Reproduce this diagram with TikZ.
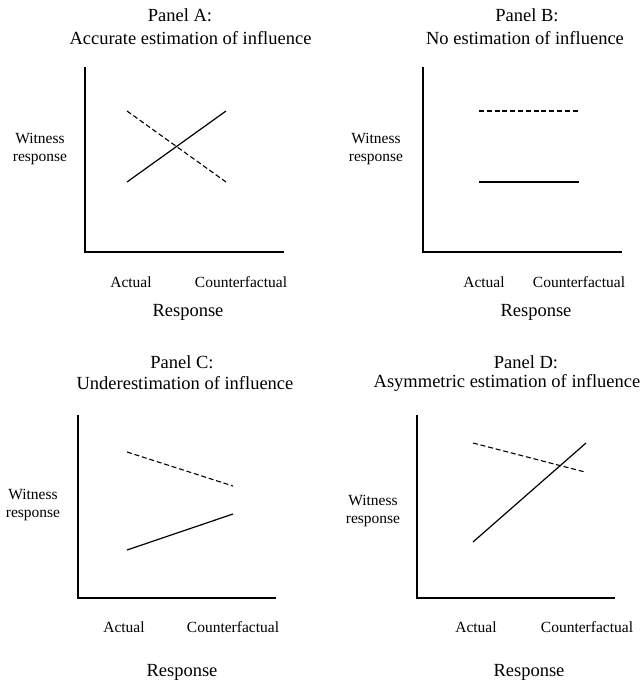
\documentclass[tikz,border=0pt]{standalone}
\usepackage{fontspec}
\setmainfont{Liberation Serif}
\begin{document}
\begin{tikzpicture}[x=1pt,y=-1pt,
  ttl/.style={inner sep=0pt,font=\fontsize{18.5}{22}\selectfont},
  lbl/.style={inner sep=0pt,font=\fontsize{15.5}{18}\selectfont,align=center},
  axis/.style={line width=1.3pt,line cap=rect},
  sol/.style={line width=1.2pt},
  dsh/.style={line width=1.1pt,dash pattern=on 5pt off 2.8pt}]
\useasboundingbox (0,0) rectangle (644,683);
% ---------- Panel A ----------
\node[ttl] (a1) at (180,15) {Panel A:};
\node[ttl] (a2) at (190.5,38) {Accurate estimation of influence};
\coordinate (ao) at (85,252); \coordinate (ay) at (85,68); \coordinate (ax) at (283,252);
\draw[axis] (ay) -- (ao) -- (ax);
\coordinate (as1) at (127,182); \coordinate (as2) at (226,111);
\coordinate (ad1) at (127,111); \coordinate (ad2) at (226,182);
\draw[sol] (as1) -- (as2);
\draw[dsh] (ad1) -- (ad2);
\node[lbl] (aw) at (40,149) {Witness\\response};
\node[lbl] (aa) at (131,282) {Actual};
\node[lbl] (ac) at (241,282) {Counterfactual};
\node[ttl] (ar) at (188,312) {Response};
% ---------- Panel B ----------
\node[ttl] (b1) at (527,15) {Panel B:};
\node[ttl] (b2) at (525,38) {No estimation of influence};
\coordinate (bo) at (423,252); \coordinate (by) at (423,68); \coordinate (bx) at (621,252);
\draw[axis] (by) -- (bo) -- (bx);
\coordinate (bs1) at (479,182); \coordinate (bs2) at (579,182);
\coordinate (bd1) at (479,111); \coordinate (bd2) at (579,111);
\draw[sol] (bs1) -- (bs2);
\draw[dsh] (bd1) -- (bd2);
\node[lbl] (bw) at (376,149) {Witness\\response};
\node[lbl] (ba) at (484,282) {Actual};
\node[lbl] (bc) at (579,282) {Counterfactual};
\node[ttl] (br) at (536,312) {Response};
% ---------- Panel C ----------
\node[ttl] (c1) at (182,362) {Panel C:};
\node[ttl] (c2) at (185,383) {Underestimation of influence};
\coordinate (co) at (78,598); \coordinate (cy) at (78,416); \coordinate (cx) at (275,598);
\draw[axis] (cy) -- (co) -- (cx);
\coordinate (cs1) at (127,550); \coordinate (cs2) at (233,514);
\coordinate (cd1) at (127,452); \coordinate (cd2) at (233,486);
\draw[sol] (cs1) -- (cs2);
\draw[dsh] (cd1) -- (cd2);
\node[lbl] (cw) at (33,505) {Witness\\response};
\node[lbl] (ca) at (124,627) {Actual};
\node[lbl] (cc) at (233,627) {Counterfactual};
\node[ttl] (cr) at (182,672) {Response};
% ---------- Panel D ----------
\node[ttl] (d1) at (526,362) {Panel D:};
\node[ttl] (d2) at (507,383) {Asymmetric estimation of influence};
\coordinate (do) at (417,598); \coordinate (dy) at (417,416); \coordinate (dx) at (614,598);
\draw[axis] (dy) -- (do) -- (dx);
\coordinate (ds1) at (473,542); \coordinate (ds2) at (586,443);
\coordinate (dd1) at (473,443); \coordinate (dd2) at (585,472);
\draw[sol] (ds1) -- (ds2);
\draw[dsh] (dd1) -- (dd2);
\node[lbl] (dw) at (373,511) {Witness\\response};
\node[lbl] (da) at (476,627) {Actual};
\node[lbl] (dc) at (587,627) {Counterfactual};
\node[ttl] (dr) at (529,672) {Response};
\end{tikzpicture}
\end{document}
